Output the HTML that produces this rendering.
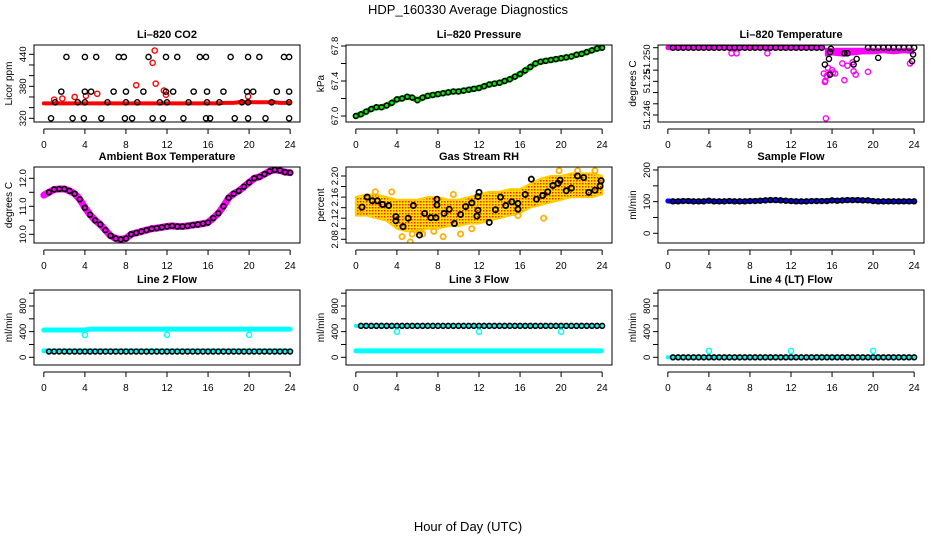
<!DOCTYPE html>
<html><head><meta charset="utf-8"><style>
html,body{margin:0;padding:0;background:#fff;}
svg{display:block;font-family:"Liberation Sans",Arial,sans-serif;}
</style></head><body>
<svg id="chart" width="936" height="540" viewBox="0 0 936 540" xmlns="http://www.w3.org/2000/svg">
<defs>
<pattern id="rhpat" width="3" height="3" patternUnits="userSpaceOnUse">
<rect width="3" height="3" fill="#ffe000"/><rect x="0" y="0" width="1.5" height="1.5" fill="#ff2000"/>
</pattern>
</defs>
<text x="468" y="14" text-anchor="middle" font-size="13">HDP_160330  Average Diagnostics</text>
<text x="468" y="531" text-anchor="middle" font-size="13">Hour of Day (UTC)</text>
<g id="plots"></g>
</svg>
<script>
// ---------- data ----------
const halfHours = [0,0.5,1,1.5,2,2.5,3,3.5,4,4.5,5,5.5,6,6.5,7,7.5,8,8.5,9,9.5,10,10.5,11,11.5,12,12.5,13,13.5,14,14.5,15,15.5,16,16.5,17,17.5,18,18.5,19,19.5,20,20.5,21,21.5,22,22.5,23,23.5,24];
const xTicks = [0,4,8,12,16,20,24];

const co2Red = [348,348,348,348,348,348,348,348,348,348,348,348,348,348,348,348,348,348,348,348,348,348,348,348,348,348,348,348,348,348,348,348,348,348,348,349,349,349,350,350,350,350,350,350,350,350,349,349,349];
const co2SpikeHours = [1,1.8,3,4.1,5.2,9,10.6,10.8,10.9,11.7,11.9,19.9];
const co2SpikeVals = [355,357,360,362,366,382,424,447,385,372,364,361];
const co2BlackHours = [2.2,4,5.1,7.3,7.8,10.2,11.9,13,15.2,15.8,18.2,19.9,21,23.4,23.9, 1.7,4,4.6,6.8,8,9.7,11.9,12.6,14.6,15.9,17.5,19.8,20.4,22.7,23.9, 1.1,3.3,4,6.2,8,9.1,11.3,12,14.1,15.9,17.1,19.3,19.9,22.2,23.9, 0.7,2.8,3.9,5.6,7.9,8.6,10.6,11.6,13.6,15.8,16.2,18.6,19.9,21.6,23.9];
const co2BlackVals = [435,435,435,435,435,435,435,435,435,435,435,435,435,435,435, 370,370,370,370,370,370,370,370,370,370,370,370,370,370,370, 350,350,350,350,350,350,350,350,350,350,350,350,350,350,350, 320,320,320,320,320,320,320,320,320,320,320,320,320,320,320];

const pressure = [67.0,67.02,67.05,67.08,67.1,67.1,67.12,67.15,67.19,67.2,67.22,67.21,67.18,67.21,67.23,67.24,67.25,67.26,67.27,67.28,67.28,67.29,67.3,67.31,67.32,67.34,67.36,67.37,67.38,67.4,67.42,67.45,67.48,67.52,67.56,67.6,67.62,67.63,67.64,67.65,67.66,67.67,67.68,67.7,67.71,67.73,67.75,67.77,67.78];

const tempBandEnd = 15.1;
const tempLowHours = [15.3,16,17,18,19,20,21,22,23,24];
const tempLowVals = [5.2,5.3,5.2,5.3,5.4,5.4,5.5,5.4,5.5,5.4];
const tempMagHours = [15.2,15.3,15.35,15.4,15.5,15.8,16.1,16.3,17.2,17.5,18.1,18.3,19.5,23.6,6.2,6.7,9.7,15.6,16.0,17.0,18.0];
const tempMagVals = [3.7,2.95,3.05,-0.3,3.5,3.7,3.8,3.7,3.1,4.4,3.9,3.6,3.85,4.6,5.5,5.5,5.5,4.2,4.0,4.6,4.7];
const tempBlackHours = [15.3,15.7,15.8,15.9,15.8,17.2,17.5,18.1,18.4,20.5,23.8,23.9];
const tempBlackVals = [4.5,5.0,5.6,5.9,3.6,5.5,5.5,4.5,5.0,5.1,4.8,5.4];
const tempTickLabels = ["51.246","","","51.25","","51.250",""];

const ambient = [11.4,11.5,11.6,11.62,11.62,11.55,11.45,11.25,10.95,10.7,10.5,10.35,10.15,9.95,9.85,9.82,9.85,10.0,10.05,10.1,10.15,10.2,10.22,10.25,10.28,10.3,10.28,10.28,10.3,10.33,10.35,10.38,10.42,10.58,10.75,11.0,11.3,11.45,11.55,11.7,11.85,12.0,12.05,12.15,12.25,12.3,12.28,12.22,12.2];

const rhHours = [0,1,2,3,4,5,6,7,8,9,10,11,12,13,14,15,16,17,18,19,20,21,22,23,24];
const rhUpper = [2.16,2.165,2.165,2.16,2.155,2.155,2.155,2.16,2.16,2.155,2.155,2.16,2.165,2.17,2.17,2.175,2.175,2.185,2.195,2.2,2.2,2.205,2.205,2.205,2.2];
const rhLower = [2.125,2.125,2.12,2.115,2.1,2.095,2.095,2.1,2.1,2.105,2.105,2.11,2.11,2.115,2.12,2.125,2.13,2.14,2.145,2.15,2.155,2.16,2.16,2.16,2.165];
const rhOutHours = [4.5,5.3,5.5,6.2,6.5,7.6,8.5,10.2,11.3,15.8,18.3,19.8,21.6,23.3,0.5,1.9,9.5,3.5];
const rhOutVals = [2.085,2.075,2.09,2.095,2.09,2.095,2.085,2.09,2.1,2.125,2.12,2.21,2.21,2.21,2.135,2.17,2.165,2.17];
const rhBlackHours = [0.6,1.1,1.6,2.1,2.6,3.2,3.9,3.9,4.6,5.1,5.6,6.2,6.7,7.3,7.8,7.9,7.9,8.6,9.1,9.6,10.2,10.7,11.3,11.8,11.9,11.9,12.0,13,13.6,14.1,14.6,15.2,15.8,15.8,16.5,17.1,17.6,18.2,18.7,19.2,19.7,19.9,20.5,21,21.6,22.2,22.7,23.3,23.8,23.9];
const rhBlackVals = [2.141,2.16,2.153,2.153,2.146,2.144,2.123,2.115,2.104,2.12,2.144,2.088,2.129,2.121,2.121,2.145,2.156,2.129,2.137,2.11,2.127,2.142,2.149,2.124,2.135,2.161,2.169,2.112,2.136,2.16,2.144,2.151,2.148,2.137,2.165,2.194,2.156,2.163,2.17,2.182,2.186,2.192,2.172,2.177,2.2,2.197,2.169,2.173,2.181,2.191];

const sampleFlow = [102,101,101,102,102,101,101,101,103,101,101,101,102,101,101,101,102,102,103,104,105,105,104,103,102,101,101,101,102,102,102,102,104,103,104,105,105,105,104,104,102,101,101,101,101,101,101,101,101];

const line2Hi = [425,425,425,425,425,425,425,425,425,440,440,440,440,440,440,440,440,440,440,440,440,440,440,440,440,440,440,440,440,440,440,440,440,440,440,440,440,440,440,440,440,440,440,440,440,440,440,440,440];
const line2Lo = 100;
const line2Black = 90;
const line3Black = 490;
const line3Cyan = 100;
const line4Black = 0;
const dipHours = [4,12,20];
const line2Dips = [350,350,350];
const line3Dips = [400,400,400];
const line4Dips = [100,100,100];

// ---------- drawing ----------
const NS = "http://www.w3.org/2000/svg";
const root = document.getElementById("plots");
function mk(tag, attrs, parent){const e=document.createElementNS(NS,tag);for(const k in attrs)e.setAttribute(k,attrs[k]);(parent||root).appendChild(e);return e;}
const colL=[34,346,658], colR=[300,612,924], rowT=[45,167,290], rowB=[122,243,365];

function makePanel(c,r,title,ytitle,v1,p1,v2,p2,yTicks,yLabels,name){
  const g=mk("g",{});
  
  
  const L=colL[c],R=colR[c],T=rowT[r],B=rowB[r];
  const x0=L+(R-L)*0.04/1.08, xs=(R-L)/25.92;
  const X=h=>x0+h*xs;
  const Y=v=>p1+(v-v1)*(p2-p1)/(v2-v1);
  const clip=mk("clipPath",{id:"clip"+name},g);
  mk("rect",{x:L,y:T,width:R-L,height:B-T},clip);
  const data=mk("g",{"clip-path":"url(#clip"+name+")"},g);
  
  
  const box=mk("rect",{x:L,y:T,width:R-L,height:B-T,fill:"none",stroke:"#000","stroke-width":1},g);
  
  
  const t=mk("text",{x:(L+R)/2,y:T-7,"text-anchor":"middle","font-size":11,"font-weight":"bold"},g);
  t.textContent=title;
  
  
  const yt=mk("text",{transform:`translate(${L-22},${(T+B)/2}) rotate(-90)`,"text-anchor":"middle","font-size":10},g);
  yt.textContent=ytitle;
  
  
  const xa=mk("g",{},g);
  
  
  mk("line",{x1:X(0),x2:X(24),y1:B+7,y2:B+7,stroke:"#000"},xa);
  xTicks.forEach(h=>{
    mk("line",{x1:X(h),x2:X(h),y1:B+7,y2:B+12,stroke:"#000"},xa);
    const tl=mk("text",{x:X(h),y:B+26,"text-anchor":"middle","font-size":10},xa);
    tl.textContent=h;
    
    
  });
  const ya=mk("g",{},g);
  
  
  yTicks.forEach((v,i)=>{
    mk("line",{x1:L-5,x2:L,y1:Y(v),y2:Y(v),stroke:"#000"},ya);
    if(yLabels[i]){
      const tl=mk("text",{transform:`translate(${L-8},${Y(v)}) rotate(-90)`,"text-anchor":"middle","font-size":9.5},ya);
      tl.textContent=yLabels[i];
      
      
    }
  });
  return {X,Y,g:data};
}
function circ(p,h,v,col,r,sw){const e=mk("circle",{cx:p.X(h),cy:p.Y(v),r:r||2.6,fill:"none",stroke:col,"stroke-width":sw||1.4},p.g);return e;}
function band(p,hs,vs,col,w){const pts=hs.map((h,i)=>p.X(h)+","+p.Y(vs[i])).join(" ");const e=mk("polyline",{points:pts,fill:"none",stroke:col,"stroke-width":w,"stroke-linejoin":"round","stroke-linecap":"round"},p.g);return e;}
const rng=(a,b,s)=>{const o=[];for(let v=a;v<=b+1e-9;v+=s)o.push(+v.toFixed(4));return o;};
const lab=(ticks,show)=>ticks.map(v=>{const f=show.find(s=>Math.abs(s[0]-v)<1e-9);return f?f[1]:"";});

// Panel 1 CO2
let t1=rng(320,440,20);
let p=makePanel(0,0,"Li\u2013820 CO2","Licor ppm",320,118.3,440,54.3,t1,lab(t1,[[320,"320"],[380,"380"],[440,"440"]]),"co2-panel");
band(p,halfHours,co2Red,"#ff0000",4);
co2SpikeHours.forEach((h,i)=>circ(p,h,co2SpikeVals[i],"#ff0000"));
co2BlackHours.forEach((h,i)=>circ(p,h,co2BlackVals[i],"#000"));

// Panel 2 Pressure
let t2=[67.0,67.2,67.4,67.6,67.8];
p=makePanel(1,0,"Li\u2013820 Pressure","kPa",67.0,116,67.8,46,t2,["67.0","","67.4","","67.8"],"pressure-panel");
band(p,halfHours,pressure,"#00ee00",6);
halfHours.forEach((h,i)=>circ(p,h,pressure[i],"#000",2.4,1.6));

// Panel 3 Temperature
let t3=[0,1,2,3,4,5,6];
p=makePanel(2,0,"Li\u2013820 Temperature","degrees C",0,115,6,47.7,t3,tempTickLabels,"li820-temp-panel");
band(p,[0,tempBandEnd],[6,6],"#ff00ff",5);
{const pts=[[15.3,6]].concat(tempLowHours.map((h,i)=>[h,tempLowVals[i]])).concat([[24,6]]);
 const e=mk("polygon",{points:pts.map(q=>p.X(q[0])+","+p.Y(q[1])).join(" "),fill:"#ff00ff"},p.g);
 }
tempMagHours.forEach((h,i)=>circ(p,h,tempMagVals[i],"#ff00ff"));
halfHours.filter(h=>h>0.3&&h<15.1).forEach(h=>circ(p,h,6,"#000"));
halfHours.filter(h=>h>19).forEach(h=>circ(p,h,6,"#000"));
tempBlackHours.forEach((h,i)=>circ(p,h,tempBlackVals[i],"#000"));

// Panel 4 Ambient
let t4=[10,10.5,11,11.5,12];
p=makePanel(0,1,"Ambient Box Temperature","degrees C",10,234.3,12,178.3,t4,["10.0","","11.0","","12.0"],"ambient-temp-panel");
band(p,halfHours,ambient,"#ff00ff",7);
halfHours.forEach((h,i)=>{if(h>0.3)circ(p,h,ambient[i],"#000",2.4,1.6);});

// Panel 5 RH
let t5=rng(2.08,2.20,0.02);
p=makePanel(1,1,"Gas Stream RH","percent",2.08,239.3,2.20,176,t5,lab(t5,[[2.08,"2.08"],[2.12,"2.12"],[2.16,"2.16"],[2.20,"2.20"]]),"rh-panel");
{const pts=rhHours.map((h,i)=>p.X(h)+","+p.Y(rhUpper[i])).concat(rhHours.slice().reverse().map((h,j)=>p.X(h)+","+p.Y(rhLower[rhHours.length-1-j])));
 const e=mk("polygon",{points:pts.join(" "),fill:"url(#rhpat)",stroke:"#ffcc00","stroke-width":2,"stroke-linejoin":"round"},p.g);
 }
rhOutHours.forEach((h,i)=>circ(p,h,rhOutVals[i],"#ffb000",2.6,1.8));
rhBlackHours.forEach((h,i)=>circ(p,h,rhBlackVals[i],"#000",2.6,1.8));

// Panel 6 Sample Flow
let t6=[0,50,100,150,200];
p=makePanel(2,1,"Sample Flow","ml/min",0,233.3,200,170,t6,["0","","100","","200"],"sample-flow-panel");
band(p,halfHours,sampleFlow,"#0000ff",5);
halfHours.forEach((h,i)=>{if(h>0.3)circ(p,h,sampleFlow[i],"#000",2.4,1.6);});

// flow panels
let t7=[0,200,400,600,800,1000], l7=["0","","400","","800",""];
p=makePanel(0,2,"Line 2 Flow","ml/min",0,357.3,800,306,t7,l7,"line2-flow-panel");
band(p,halfHours,line2Hi,"#00ffff",5);
band(p,[0,23.9],[line2Lo,line2Lo],"#00ffff",5);
halfHours.forEach(h=>{if(h>0.3)circ(p,h,line2Black,"#000",2.4,1.6);});
dipHours.forEach((h,i)=>circ(p,h,line2Dips[i],"#00ffff"));

p=makePanel(1,2,"Line 3 Flow","ml/min",0,357.3,800,306,t7,l7,"line3-flow-panel");
band(p,[0,23.9],[line3Cyan,line3Cyan],"#00ffff",5);
band(p,[0,23.9],[line3Black,line3Black],"#00ffff",4);
halfHours.forEach(h=>{if(h>0.3)circ(p,h,line3Black,"#000",2.4,1.6);});
dipHours.forEach((h,i)=>circ(p,h,line3Dips[i],"#00ffff"));

p=makePanel(2,2,"Line 4 (LT) Flow","ml/min",0,357.3,800,306,t7,l7,"line4-flow-panel");
band(p,[0,23.9],[line4Black,line4Black],"#00ffff",4);
halfHours.forEach(h=>{if(h>0.3)circ(p,h,line4Black,"#000",2.4,1.6);});
dipHours.forEach((h,i)=>circ(p,h,line4Dips[i],"#00ffff"));
</script>
</body></html>
